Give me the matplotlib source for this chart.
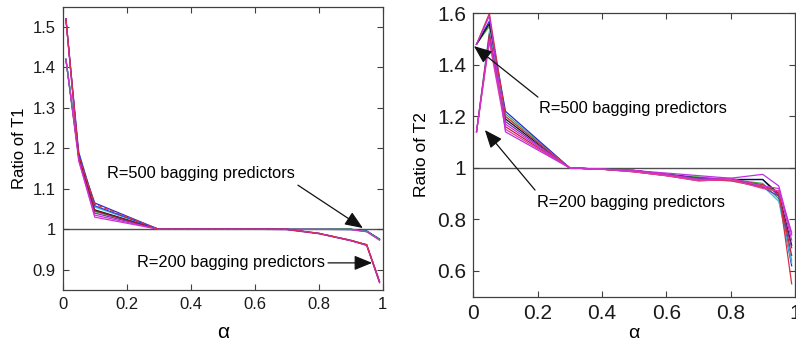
import matplotlib
matplotlib.use("Agg")
import matplotlib.pyplot as plt
from matplotlib.ticker import FuncFormatter

plt.rcParams['font.family'] = ['Liberation Sans', 'DejaVu Sans']

# ---------------- data ----------------
alpha = [0.01, 0.05, 0.1, 0.3, 0.4, 0.5, 0.6, 0.7, 0.8, 0.9, 0.95, 0.99]

# Ratio of T1 – R=500 bagging predictors
t1_r500_blue    = [1.42, 1.18, 1.065, 1.0, 1.0, 1.0, 1.0, 1.0, 1.0, 1.0, 0.996, 0.976]
t1_r500_black   = [1.42, 1.18, 1.048, 1.0, 1.0, 1.0, 1.0, 1.0, 1.0, 1.0, 0.995, 0.975]
t1_r500_cyan    = [1.42, 1.19, 1.055, 1.0, 1.0, 1.0, 1.0, 1.0, 1.0, 0.999, 0.995, 0.974]
t1_r500_green   = [1.42, 1.18, 1.044, 1.0, 1.0, 1.0, 1.0, 1.0, 1.0, 1.0, 0.994, 0.975]
t1_r500_magenta = [1.42, 1.17, 1.030, 1.0, 1.0, 1.0, 1.0, 1.0, 1.0, 0.999, 0.994, 0.973]
# Ratio of T1 – R=200 bagging predictors
t1_r200_red     = [1.52, 1.18, 1.062, 1.0, 1.0, 1.0, 1.0, 1.0, 0.99, 0.973, 0.962, 0.872]
t1_r200_magenta = [1.52, 1.17, 1.035, 1.0, 1.0, 1.0, 1.0, 1.0, 0.99, 0.972, 0.961, 0.870]
t1_r200_purple  = [1.52, 1.18, 1.040, 1.0, 1.0, 1.0, 1.0, 0.999, 0.989, 0.972, 0.960, 0.868]
t1_r200_blue    = [1.52, 1.19, 1.058, 1.0, 1.0, 1.0, 1.0, 1.0, 0.99, 0.973, 0.961, 0.871]
t1_r200_dred    = [1.52, 1.18, 1.046, 1.0, 1.0, 1.0, 1.0, 1.0, 0.99, 0.972, 0.962, 0.870]

# Ratio of T2 – R=500 bagging predictors
t2_r500_blue    = [1.48, 1.57, 1.22, 1.0, 0.995, 0.99, 0.975, 0.960, 0.955, 0.955, 0.89, 0.62]
t2_r500_black   = [1.48, 1.56, 1.19, 1.0, 0.995, 0.99, 0.975, 0.960, 0.955, 0.955, 0.90, 0.70]
t2_r500_red     = [1.48, 1.60, 1.20, 1.0, 0.995, 0.985, 0.970, 0.955, 0.950, 0.925, 0.91, 0.55]
t2_r500_magenta = [1.48, 1.59, 1.14, 1.0, 0.995, 0.99, 0.980, 0.970, 0.960, 0.975, 0.93, 0.74]
t2_r500_green   = [1.48, 1.55, 1.21, 1.0, 0.995, 0.99, 0.975, 0.965, 0.955, 0.940, 0.88, 0.64]
# Ratio of T2 – R=200 bagging predictors
t2_r200_magenta = [1.14, 1.50, 1.17, 1.0, 0.995, 0.99, 0.975, 0.955, 0.960, 0.930, 0.92, 0.72]
t2_r200_red     = [1.14, 1.52, 1.16, 1.0, 0.995, 0.985, 0.970, 0.950, 0.955, 0.935, 0.90, 0.66]
t2_r200_purple  = [1.14, 1.51, 1.18, 1.0, 0.995, 0.99, 0.975, 0.960, 0.955, 0.925, 0.89, 0.69]
t2_r200_cyan    = [1.14, 1.53, 1.20, 1.0, 0.995, 0.99, 0.972, 0.958, 0.950, 0.930, 0.87, 0.63]
t2_r200_pink    = [1.14, 1.49, 1.15, 1.0, 0.995, 0.985, 0.970, 0.950, 0.955, 0.920, 0.91, 0.75]

t1_series = [
    (t1_r500_blue, '#2a2ad8', '-'), (t1_r500_black, '#101010', '-'),
    (t1_r500_cyan, '#30c8d8', '-'), (t1_r500_green, '#30b040', '-'),
    (t1_r500_magenta, '#d030d0', '-'),
    (t1_r200_blue, '#3a3ad0', '-'), (t1_r200_purple, '#8030c0', '-'),
    (t1_r200_dred, '#a01030', '-'), (t1_r200_magenta, '#d030d0', '-'),
    (t1_r200_red, '#d83040', '--'),
]
t2_series = [
    (t2_r500_green, '#40b050', '-'), (t2_r500_blue, '#2a2ad8', '-'),
    (t2_r500_black, '#101010', '-'), (t2_r200_cyan, '#40b8e0', '-'),
    (t2_r200_purple, '#7030b0', '-'), (t2_r200_red, '#c82040', '-'),
    (t2_r500_red, '#d83040', '-'), (t2_r200_pink, '#e040a0', '-'),
    (t2_r500_magenta, '#c030e0', '-'), (t2_r200_magenta, '#d030d0', '-'),
]

label_500 = "R=500 bagging predictors"
label_200 = "R=200 bagging predictors"

# ---------------- figure ----------------
fig = plt.figure(figsize=(7.96, 3.44), dpi=100)
ax1 = fig.add_axes([0.0788, 0.157, 0.402, 0.8236])
ax2 = fig.add_axes([0.5946, 0.1375, 0.404, 0.8236])

def style(ax, tick_fs):
    for s in ax.spines.values():
        s.set_color('#404040')
        s.set_linewidth(0.9)
    ax.tick_params(direction='in', length=4, width=0.8, color='#404040',
                   top=True, right=True, labelsize=tick_fs, pad=5,
                   labelcolor='#1a1a1a')
    fmt = FuncFormatter(lambda v, p: ('%g' % round(v, 3)))
    ax.xaxis.set_major_formatter(fmt)
    ax.yaxis.set_major_formatter(fmt)

arrow_kw = dict(arrowstyle='-|>,head_length=1.1,head_width=0.45',
                color='#111111', lw=0.9, shrinkA=0, shrinkB=0)

# Left panel
for vals, c, ls in t1_series:
    ax1.plot(alpha, vals, color=c, ls=ls, lw=0.9)
ax1.axhline(1.0, color='#505050', lw=1.0, zorder=0)
ax1.set_xlim(0, 1)
ax1.set_ylim(0.85, 1.55)
ax1.set_xticks([0, 0.2, 0.4, 0.6, 0.8, 1.0])
ax1.set_yticks([0.9, 1.0, 1.1, 1.2, 1.3, 1.4, 1.5])
style(ax1, 12)
ax1.set_xlabel('α', fontsize=15, labelpad=8)
ax1.set_ylabel('Ratio of T1', fontsize=12, labelpad=4)
ax1.text(0.138, 1.139, label_500, fontsize=11.8, va='center', ha='left')
ax1.text(0.232, 0.919, label_200, fontsize=11.8, va='center', ha='left')
ax1.annotate('', xy=(0.938, 1.003), xytext=(0.735, 1.109), arrowprops=arrow_kw)
ax1.annotate('', xy=(0.967, 0.917), xytext=(0.829, 0.917), arrowprops=arrow_kw)

# Right panel
for vals, c, ls in t2_series:
    ax2.plot(alpha, vals, color=c, ls=ls, lw=0.9)
ax2.axhline(1.0, color='#505050', lw=1.0, zorder=0)
ax2.set_xlim(0, 1)
ax2.set_ylim(0.5, 1.6)
ax2.set_xticks([0, 0.2, 0.4, 0.6, 0.8, 1.0])
ax2.set_yticks([0.6, 0.8, 1.0, 1.2, 1.4, 1.6])
style(ax2, 15)
ax2.set_xlabel('α', fontsize=14, labelpad=2)
ax2.set_ylabel('Ratio of T2', fontsize=12.5, labelpad=6)
ax2.text(0.204, 1.2325, label_500, fontsize=11.8, va='center', ha='left')
ax2.text(0.198, 0.867, label_200, fontsize=11.8, va='center', ha='left')
ax2.annotate('', xy=(0.002, 1.473), xytext=(0.201, 1.275), arrowprops=arrow_kw)
ax2.annotate('', xy=(0.036, 1.147), xytext=(0.192, 0.914), arrowprops=arrow_kw)

fig.savefig('out.png', dpi=100)
